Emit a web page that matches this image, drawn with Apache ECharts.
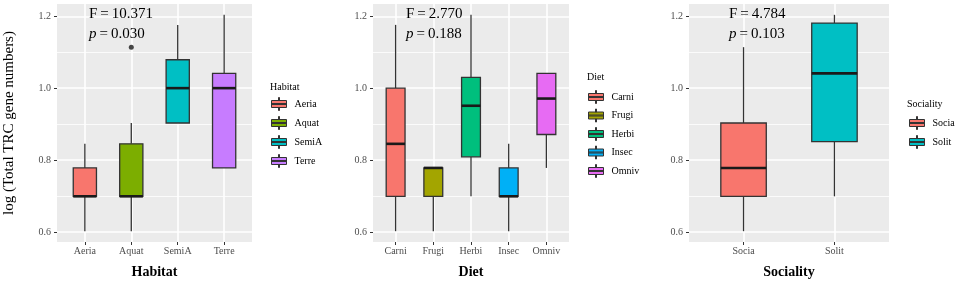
<!DOCTYPE html>
<html>
<head>
<meta charset="utf-8">
<script src="https://cdn.jsdelivr.net/npm/echarts@6/dist/echarts.min.js"></script>
<style>
  html, body { margin: 0; padding: 0; background: #fff; }
  #chart { width: 957px; height: 282px; }
</style>
</head>
<body>
<div id="chart"></div>
<script>
// box stats per group: [min, q1, median, q3, max]  (log10 of gene counts)
const habitatCats = ['Aeria', 'Aquat', 'SemiA', 'Terre'];
const habitatStats = [
  [0.602, 0.699, 0.699, 0.778, 0.845],
  [0.602, 0.699, 0.699, 0.845, 0.903],
  [0.903, 0.903, 1.000, 1.079, 1.176],
  [0.778, 0.778, 1.000, 1.041, 1.204]
];
const habitatOutliers = [[1, 1.114]];

const dietCats = ['Carni', 'Frugi', 'Herbi', 'Insec', 'Omniv'];
const dietStats = [
  [0.602, 0.699, 0.845, 1.000, 1.176],
  [0.602, 0.699, 0.778, 0.778, 0.778],
  [0.699, 0.809, 0.951, 1.030, 1.204],
  [0.602, 0.699, 0.699, 0.778, 0.845],
  [0.778, 0.871, 0.971, 1.041, 1.041]
];

const socialCats = ['Socia', 'Solit'];
const socialStats = [
  [0.602, 0.699, 0.778, 0.903, 1.114],
  [0.699, 0.851, 1.041, 1.181, 1.204]
];

const yTicks = [0.6, 0.8, 1.0, 1.2];
const yMinorTicks = [0.7, 0.9, 1.1];
const fValues = ['10.371', '2.770', '4.784'];
const pValues = ['0.030', '0.188', '0.103'];

const SERIF = '"Liberation Serif", "Times New Roman", serif';
const Y_MIN = 0.5719, Y_MAX = 1.2341;

const panels = [
  { name: 'Habitat', cats: habitatCats, stats: habitatStats, outliers: habitatOutliers,
    colors: ['#F8766D', '#7CAE00', '#00BFC4', '#C77CFF'],
    left: 57, right: 705, legendLeft: 271, legendTop: 97, legendGap: 5, titleLeft: 270, titleTop: 82, annLeft: 89 },
  { name: 'Diet', cats: dietCats, stats: dietStats, outliers: [],
    colors: ['#F8766D', '#A3A500', '#00BF7D', '#00B0F6', '#E76BF3'],
    left: 373, right: 388, legendLeft: 588, legendTop: 90, legendGap: 4.5, titleLeft: 587, titleTop: 72, annLeft: 406 },
  { name: 'Sociality', cats: socialCats, stats: socialStats, outliers: [],
    colors: ['#F8766D', '#00BFC4'],
    left: 689, right: 68, legendLeft: 909, legendTop: 116, legendGap: 5, titleLeft: 907, titleTop: 99, annLeft: 729 }
];

function renderBox(params, api) {
  const x = api.value(0);
  const pMin = api.coord([x, api.value(1)]);
  const pQ1 = api.coord([x, api.value(2)]);
  const pMed = api.coord([x, api.value(3)]);
  const pQ3 = api.coord([x, api.value(4)]);
  const pMax = api.coord([x, api.value(5)]);
  const half = api.size([0.5, 0])[0] / 2;
  const line = { stroke: '#333333', lineWidth: 1.3 };
  return {
    type: 'group',
    children: [
      { type: 'line', shape: { x1: pMax[0], y1: pMax[1], x2: pQ3[0], y2: pQ3[1] }, style: line },
      { type: 'line', shape: { x1: pQ1[0], y1: pQ1[1], x2: pMin[0], y2: pMin[1] }, style: line },
      { type: 'rect', shape: { x: pQ3[0] - half, y: pQ3[1], width: half * 2, height: pQ1[1] - pQ3[1] },
        style: { fill: api.visual('color'), stroke: '#333333', lineWidth: 1.3 } },
      { type: 'line', shape: { x1: pMed[0] - half, y1: pMed[1], x2: pMed[0] + half, y2: pMed[1] },
        style: { stroke: '#1a1a1a', lineWidth: 2.6 } }
    ]
  };
}

const keyIcon = 'path://M7,0H8V3H7Z M0,3H15V10H0Z M0,6H15V7H0Z M7,10H8V13H7Z';

const grid = [], xAxis = [], yAxis = [], series = [], legend = [], title = [], graphic = [];

panels.forEach((p, k) => {
  grid.push({ left: p.left, right: p.right, top: 4, bottom: 40, outerBoundsMode: 'none',
    backgroundColor: '#EBEBEB', show: true, borderWidth: 0 });
  const idx = p.cats.map((c, i) => i);
  xAxis.push({
    type: 'value', gridIndex: k, min: -0.6, max: p.cats.length - 0.4,
    name: p.name, nameLocation: 'middle', nameGap: 23,
    nameTextStyle: { fontFamily: SERIF, fontSize: 14, fontWeight: 'bold', color: '#000' },
    axisLine: { show: false, onZero: false },
    axisTick: { show: true, customValues: idx, length: 3, lineStyle: { color: '#333333', width: 1 } },
    axisLabel: { customValues: idx, formatter: v => p.cats[Math.round(v)], margin: 4,
      fontFamily: SERIF, fontSize: 10, color: '#4D4D4D' },
    splitLine: { show: true, lineStyle: { color: '#ffffff', width: 1.6 } }
  });
  yAxis.push({
    type: 'value', gridIndex: k, min: Y_MIN, max: Y_MAX, position: 'left',
    name: k === 0 ? 'log (Total TRC gene numbers)' : '', nameLocation: 'middle', nameGap: 40,
    nameTextStyle: { fontFamily: SERIF, fontSize: 15, color: '#000' },
    axisLine: { show: false, onZero: false },
    axisTick: { show: true, customValues: yTicks, length: 3, lineStyle: { color: '#333333', width: 1 } },
    axisLabel: { customValues: yTicks, formatter: v => v.toFixed(1), margin: 6,
      fontFamily: SERIF, fontSize: 10, color: '#4D4D4D' },
    splitLine: { show: true, lineStyle: { color: '#ffffff', width: 1.6 } }
  });
  // minor grid lines
  yAxis.push({
    type: 'value', gridIndex: k, min: Y_MIN, max: Y_MAX, position: 'right',
    axisLine: { show: false, onZero: false },
    axisTick: { show: false, customValues: yMinorTicks },
    axisLabel: { show: false },
    splitLine: { show: true, lineStyle: { color: '#ffffff', width: 0.8 } }
  });

  p.cats.forEach((c, i) => {
    series.push({
      type: 'custom', name: c, xAxisIndex: k, yAxisIndex: k * 2,
      itemStyle: { color: p.colors[i] },
      encode: { x: 0, y: [1, 2, 3, 4, 5] },
      renderItem: renderBox,
      data: [[i].concat(p.stats[i])]
    });
  });
  if (p.outliers.length) {
    series.push({
      type: 'scatter', xAxisIndex: k, yAxisIndex: k * 2, symbolSize: 5,
      itemStyle: { color: '#1a1a1a' }, data: p.outliers
    });
  }

  legend.push({
    orient: 'vertical', left: p.legendLeft, top: p.legendTop, padding: 0,
    itemWidth: 15, itemHeight: 13, itemGap: p.legendGap, selectedMode: false,
    data: p.cats.map(c => ({ name: c, icon: keyIcon })),
    itemStyle: { borderColor: '#333333', borderWidth: 1 },
    textStyle: { fontFamily: SERIF, fontSize: 10, color: '#000', padding: [0, 0, 0, 3] }
  });
  title.push({
    text: p.name, left: p.titleLeft, top: p.titleTop, padding: 0,
    textStyle: { fontFamily: SERIF, fontSize: 10, fontWeight: 'normal', color: '#000' }
  });
  graphic.push({
    type: 'text', left: p.annLeft, top: 4, z: 100,
    style: {
      text: 'F\u2009=\u2009' + fValues[k] + '\n{i|p}\u2009=\u2009' + pValues[k],
      fontFamily: SERIF, fontSize: 15, lineHeight: 20, fill: '#000',
      rich: { i: { fontFamily: SERIF, fontSize: 15, fontStyle: 'italic', lineHeight: 20 } }
    }
  });
});

const chart = echarts.init(document.getElementById('chart'));
chart.setOption({
  animation: false,
  grid, xAxis, yAxis, series, legend, title, graphic
});
</script>
</body>
</html>
